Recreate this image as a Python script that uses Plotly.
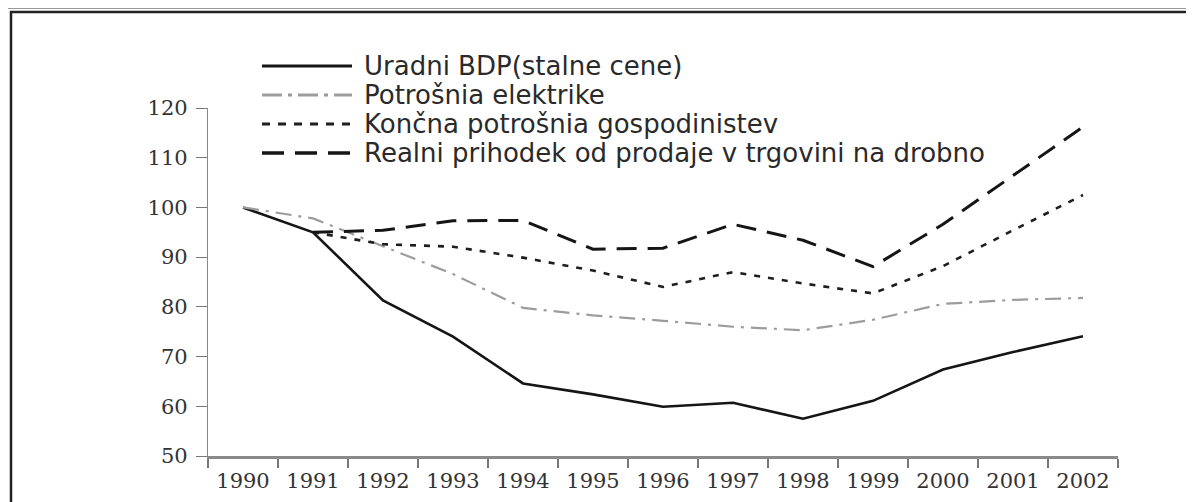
import plotly.graph_objects as go

years = ["1990", "1991", "1992", "1993", "1994", "1995", "1996", "1997",
         "1998", "1999", "2000", "2001", "2002"]
bdp = [100, 95, 81.3, 74, 64.6, 62.4, 59.9, 60.7, 57.5, 61.1, 67.4, 70.9, 74.1]
elektrika = [100, 97.8, 92.2, 86.6, 79.8, 78.3, 77.2, 76.0, 75.3, 77.4, 80.6, 81.4, 81.8]
gospodinjstva = [None, 95, 92.6, 92.1, 89.9, 87.3, 84.0, 87.0, 84.7, 82.7, 88.2, 95.4, 102.5]
trgovina = [None, 95, 95.4, 97.3, 97.4, 91.6, 91.8, 96.6, 93.4, 88.1, 96.6, 106.4, 116.2]
y_ticks = [50, 60, 70, 80, 90, 100, 110, 120]

names = ["Uradni BDP(stalne cene)", "Potrošnia elektrike",
         "Končna potrošnia gospodinistev",
         "Realni prihodek od prodaje v trgovini na drobno"]
series = [bdp, elektrika, gospodinjstva, trgovina]
styles = [
    dict(color="#151515", width=2.6, dash="solid"),
    dict(color="#9c9c9c", width=2.2, dash="16px,7px,3px,7px"),
    dict(color="#1e1e1e", width=2.6, dash="6px,8px"),
    dict(color="#151515", width=3.0, dash="20px,11px"),
]

fig = go.Figure()
for n, s, st in zip(names, series, styles):
    fig.add_trace(go.Scatter(x=years, y=s, mode="lines", name=n, line=st,
                             connectgaps=False, showlegend=False))

# page body adds an 8px offset; compensate so the plot lands where the reference has it
OFF = 8
W, H = 1194, 502
L, R, T, B = 208, 76, 108, 46
pw, ph = W - L - R, H - T - B

def px(x):
    return (x - L) / pw

def py(y):
    return (H - B - y) / ph

# manual legend
rows_y = [66, 95, 124, 153]
leg_styles = [
    dict(color="#151515", width=3.2, dash="solid"),
    dict(color="#9c9c9c", width=3.0, dash="20px,6px,4px,6px"),
    dict(color="#1e1e1e", width=3.0, dash="8px,8px"),
    dict(color="#151515", width=3.6, dash="22px,11px"),
]
shapes = []
annotations = []
for yy, n, st in zip(rows_y, names, leg_styles):
    shapes.append(dict(type="line", xref="paper", yref="paper",
                       x0=px(262), x1=px(352), y0=py(yy), y1=py(yy), line=st))
    annotations.append(dict(xref="paper", yref="paper", x=px(362), y=py(yy),
                            text=n, showarrow=False, xanchor="left", yanchor="middle",
                            font=dict(family="DejaVu Sans", size=26, color="#2a2a2a")))

# outer frame (double line)
shapes.append(dict(type="rect", xref="paper", yref="paper",
                   x0=px(6), x1=px(1240), y0=py(8), y1=py(560),
                   line=dict(color="#9a9a9a", width=2)))
shapes.append(dict(type="rect", xref="paper", yref="paper",
                   x0=px(11), x1=px(1240), y0=py(12), y1=py(560),
                   line=dict(color="#222222", width=2.5)))

fig.update_layout(
    width=W, height=H,
    margin=dict(l=L - OFF, r=R + OFF, t=T - OFF, b=B + OFF),
    paper_bgcolor="white", plot_bgcolor="white",
    shapes=shapes, annotations=annotations,
    showlegend=False,
)
fig.update_xaxes(type="category", range=[-0.5, 12.5], tickson="boundaries",
                 ticks="outside", ticklen=9, tickwidth=1.5, tickcolor="#777",
                 showline=True, linecolor="#8a8a8a", linewidth=2.5,
                 showgrid=False, zeroline=False, ticklabelstandoff=4,
                 tickfont=dict(family="DejaVu Serif", size=21, color="#333"))
fig.update_yaxes(range=[50, 120], tickvals=y_ticks, ticks="outside", ticklen=11,
                 tickwidth=1.3, tickcolor="#777", showline=True, linecolor="#8a8a8a",
                 linewidth=1.3, showgrid=False, zeroline=False, ticklabelstandoff=4,
                 tickfont=dict(family="DejaVu Serif", size=21, color="#333"))

fig.write_html("out.html")
